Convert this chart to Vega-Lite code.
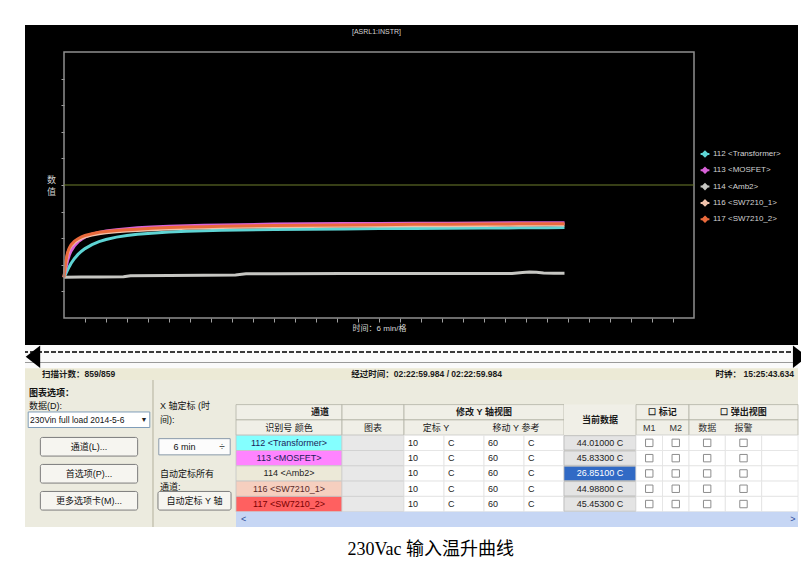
{
  "$schema": "https://vega.github.io/schema/vega-lite/v6.json",
  "background": "#ffffff",
  "padding": {"left": 24, "top": 25, "right": 4, "bottom": 10},
  "config": {
    "view": {"stroke": null},
    "font": "Liberation Sans, Noto Sans CJK SC",
    "text": {"font": "Liberation Sans, Noto Sans CJK SC", "fontSize": 9, "color": "#1a1a1a"}
  },
  "title": {
    "text": "230Vac 输入温升曲线",
    "orient": "bottom",
    "anchor": "middle",
    "offset": 13,
    "dx": 15,
    "fontSize": 18,
    "fontWeight": "normal",
    "font": "Liberation Serif, Noto Sans CJK SC",
    "color": "#000000"
  },
  "datasets": {
    "temps": [
      {"ch": "112 <Transformer>", "t": 0, "temp": 25.3},
      {"ch": "112 <Transformer>", "t": 0.5, "temp": 26.6},
      {"ch": "112 <Transformer>", "t": 1, "temp": 28.0},
      {"ch": "112 <Transformer>", "t": 1.5, "temp": 29.3},
      {"ch": "112 <Transformer>", "t": 2, "temp": 30.5},
      {"ch": "112 <Transformer>", "t": 3, "temp": 32.4},
      {"ch": "112 <Transformer>", "t": 4, "temp": 33.9},
      {"ch": "112 <Transformer>", "t": 5, "temp": 35.1},
      {"ch": "112 <Transformer>", "t": 6, "temp": 36.1},
      {"ch": "112 <Transformer>", "t": 8, "temp": 37.6},
      {"ch": "112 <Transformer>", "t": 10, "temp": 38.7},
      {"ch": "112 <Transformer>", "t": 12, "temp": 39.5},
      {"ch": "112 <Transformer>", "t": 15, "temp": 40.4},
      {"ch": "112 <Transformer>", "t": 18, "temp": 41.0},
      {"ch": "112 <Transformer>", "t": 21, "temp": 41.5},
      {"ch": "112 <Transformer>", "t": 25, "temp": 41.9},
      {"ch": "112 <Transformer>", "t": 30, "temp": 42.3},
      {"ch": "112 <Transformer>", "t": 35, "temp": 42.6},
      {"ch": "112 <Transformer>", "t": 40, "temp": 42.8},
      {"ch": "112 <Transformer>", "t": 45, "temp": 43.0},
      {"ch": "112 <Transformer>", "t": 50, "temp": 43.1},
      {"ch": "112 <Transformer>", "t": 60, "temp": 43.3},
      {"ch": "112 <Transformer>", "t": 70, "temp": 43.4},
      {"ch": "112 <Transformer>", "t": 80, "temp": 43.5},
      {"ch": "112 <Transformer>", "t": 90, "temp": 43.6},
      {"ch": "112 <Transformer>", "t": 100, "temp": 43.6},
      {"ch": "112 <Transformer>", "t": 110, "temp": 43.7},
      {"ch": "112 <Transformer>", "t": 120, "temp": 43.8},
      {"ch": "112 <Transformer>", "t": 130, "temp": 43.9},
      {"ch": "112 <Transformer>", "t": 138, "temp": 43.95},
      {"ch": "112 <Transformer>", "t": 143, "temp": 44.01},
      {"ch": "113 <MOSFET>", "t": 0, "temp": 25.3},
      {"ch": "113 <MOSFET>", "t": 0.5, "temp": 28.5},
      {"ch": "113 <MOSFET>", "t": 1, "temp": 31.5},
      {"ch": "113 <MOSFET>", "t": 1.5, "temp": 33.6},
      {"ch": "113 <MOSFET>", "t": 2, "temp": 35.1},
      {"ch": "113 <MOSFET>", "t": 3, "temp": 37.2},
      {"ch": "113 <MOSFET>", "t": 4, "temp": 38.6},
      {"ch": "113 <MOSFET>", "t": 5, "temp": 39.6},
      {"ch": "113 <MOSFET>", "t": 6, "temp": 40.4},
      {"ch": "113 <MOSFET>", "t": 8, "temp": 41.5},
      {"ch": "113 <MOSFET>", "t": 10, "temp": 42.2},
      {"ch": "113 <MOSFET>", "t": 12, "temp": 42.7},
      {"ch": "113 <MOSFET>", "t": 15, "temp": 43.2},
      {"ch": "113 <MOSFET>", "t": 18, "temp": 43.6},
      {"ch": "113 <MOSFET>", "t": 21, "temp": 43.9},
      {"ch": "113 <MOSFET>", "t": 25, "temp": 44.2},
      {"ch": "113 <MOSFET>", "t": 30, "temp": 44.5},
      {"ch": "113 <MOSFET>", "t": 35, "temp": 44.7},
      {"ch": "113 <MOSFET>", "t": 40, "temp": 44.9},
      {"ch": "113 <MOSFET>", "t": 45, "temp": 45.0},
      {"ch": "113 <MOSFET>", "t": 50, "temp": 45.1},
      {"ch": "113 <MOSFET>", "t": 60, "temp": 45.3},
      {"ch": "113 <MOSFET>", "t": 70, "temp": 45.4},
      {"ch": "113 <MOSFET>", "t": 80, "temp": 45.5},
      {"ch": "113 <MOSFET>", "t": 90, "temp": 45.5},
      {"ch": "113 <MOSFET>", "t": 100, "temp": 45.6},
      {"ch": "113 <MOSFET>", "t": 110, "temp": 45.6},
      {"ch": "113 <MOSFET>", "t": 120, "temp": 45.7},
      {"ch": "113 <MOSFET>", "t": 130, "temp": 45.8},
      {"ch": "113 <MOSFET>", "t": 138, "temp": 45.8},
      {"ch": "113 <MOSFET>", "t": 143, "temp": 45.833},
      {"ch": "114 <Amb2>", "t": 0, "temp": 25.3},
      {"ch": "114 <Amb2>", "t": 5, "temp": 25.4},
      {"ch": "114 <Amb2>", "t": 10, "temp": 25.4},
      {"ch": "114 <Amb2>", "t": 17, "temp": 25.5},
      {"ch": "114 <Amb2>", "t": 19, "temp": 25.9},
      {"ch": "114 <Amb2>", "t": 30, "temp": 26.0},
      {"ch": "114 <Amb2>", "t": 40, "temp": 26.1},
      {"ch": "114 <Amb2>", "t": 49, "temp": 26.2},
      {"ch": "114 <Amb2>", "t": 52, "temp": 26.6},
      {"ch": "114 <Amb2>", "t": 60, "temp": 26.6},
      {"ch": "114 <Amb2>", "t": 80, "temp": 26.7},
      {"ch": "114 <Amb2>", "t": 100, "temp": 26.7},
      {"ch": "114 <Amb2>", "t": 120, "temp": 26.7},
      {"ch": "114 <Amb2>", "t": 128, "temp": 26.7},
      {"ch": "114 <Amb2>", "t": 131, "temp": 27.1},
      {"ch": "114 <Amb2>", "t": 133, "temp": 27.3},
      {"ch": "114 <Amb2>", "t": 135, "temp": 27.2},
      {"ch": "114 <Amb2>", "t": 137, "temp": 26.9},
      {"ch": "114 <Amb2>", "t": 140, "temp": 26.8},
      {"ch": "114 <Amb2>", "t": 143, "temp": 26.851},
      {"ch": "116 <SW7210_1>", "t": 0, "temp": 25.3},
      {"ch": "116 <SW7210_1>", "t": 0.5, "temp": 30.5},
      {"ch": "116 <SW7210_1>", "t": 1, "temp": 34.0},
      {"ch": "116 <SW7210_1>", "t": 1.5, "temp": 35.9},
      {"ch": "116 <SW7210_1>", "t": 2, "temp": 37.0},
      {"ch": "116 <SW7210_1>", "t": 3, "temp": 38.4},
      {"ch": "116 <SW7210_1>", "t": 4, "temp": 39.3},
      {"ch": "116 <SW7210_1>", "t": 5, "temp": 40.0},
      {"ch": "116 <SW7210_1>", "t": 6, "temp": 40.5},
      {"ch": "116 <SW7210_1>", "t": 8, "temp": 41.2},
      {"ch": "116 <SW7210_1>", "t": 10, "temp": 41.7},
      {"ch": "116 <SW7210_1>", "t": 12, "temp": 42.0},
      {"ch": "116 <SW7210_1>", "t": 15, "temp": 42.4},
      {"ch": "116 <SW7210_1>", "t": 18, "temp": 42.7},
      {"ch": "116 <SW7210_1>", "t": 21, "temp": 42.9},
      {"ch": "116 <SW7210_1>", "t": 25, "temp": 43.2},
      {"ch": "116 <SW7210_1>", "t": 30, "temp": 43.5},
      {"ch": "116 <SW7210_1>", "t": 35, "temp": 43.7},
      {"ch": "116 <SW7210_1>", "t": 40, "temp": 43.8},
      {"ch": "116 <SW7210_1>", "t": 45, "temp": 44.0},
      {"ch": "116 <SW7210_1>", "t": 50, "temp": 44.1},
      {"ch": "116 <SW7210_1>", "t": 60, "temp": 44.3},
      {"ch": "116 <SW7210_1>", "t": 70, "temp": 44.4},
      {"ch": "116 <SW7210_1>", "t": 80, "temp": 44.5},
      {"ch": "116 <SW7210_1>", "t": 90, "temp": 44.6},
      {"ch": "116 <SW7210_1>", "t": 100, "temp": 44.7},
      {"ch": "116 <SW7210_1>", "t": 110, "temp": 44.7},
      {"ch": "116 <SW7210_1>", "t": 120, "temp": 44.8},
      {"ch": "116 <SW7210_1>", "t": 130, "temp": 44.9},
      {"ch": "116 <SW7210_1>", "t": 138, "temp": 44.95},
      {"ch": "116 <SW7210_1>", "t": 143, "temp": 44.988},
      {"ch": "117 <SW7210_2>", "t": 0, "temp": 25.3},
      {"ch": "117 <SW7210_2>", "t": 0.5, "temp": 31.0},
      {"ch": "117 <SW7210_2>", "t": 1, "temp": 34.5},
      {"ch": "117 <SW7210_2>", "t": 1.5, "temp": 36.3},
      {"ch": "117 <SW7210_2>", "t": 2, "temp": 37.5},
      {"ch": "117 <SW7210_2>", "t": 3, "temp": 38.9},
      {"ch": "117 <SW7210_2>", "t": 4, "temp": 39.8},
      {"ch": "117 <SW7210_2>", "t": 5, "temp": 40.5},
      {"ch": "117 <SW7210_2>", "t": 6, "temp": 41.0},
      {"ch": "117 <SW7210_2>", "t": 8, "temp": 41.7},
      {"ch": "117 <SW7210_2>", "t": 10, "temp": 42.2},
      {"ch": "117 <SW7210_2>", "t": 12, "temp": 42.5},
      {"ch": "117 <SW7210_2>", "t": 15, "temp": 42.9},
      {"ch": "117 <SW7210_2>", "t": 18, "temp": 43.2},
      {"ch": "117 <SW7210_2>", "t": 21, "temp": 43.4},
      {"ch": "117 <SW7210_2>", "t": 25, "temp": 43.7},
      {"ch": "117 <SW7210_2>", "t": 30, "temp": 44.0},
      {"ch": "117 <SW7210_2>", "t": 35, "temp": 44.2},
      {"ch": "117 <SW7210_2>", "t": 40, "temp": 44.3},
      {"ch": "117 <SW7210_2>", "t": 45, "temp": 44.5},
      {"ch": "117 <SW7210_2>", "t": 50, "temp": 44.6},
      {"ch": "117 <SW7210_2>", "t": 60, "temp": 44.8},
      {"ch": "117 <SW7210_2>", "t": 70, "temp": 44.9},
      {"ch": "117 <SW7210_2>", "t": 80, "temp": 45.0},
      {"ch": "117 <SW7210_2>", "t": 90, "temp": 45.1},
      {"ch": "117 <SW7210_2>", "t": 100, "temp": 45.2},
      {"ch": "117 <SW7210_2>", "t": 110, "temp": 45.2},
      {"ch": "117 <SW7210_2>", "t": 120, "temp": 45.3},
      {"ch": "117 <SW7210_2>", "t": 130, "temp": 45.4},
      {"ch": "117 <SW7210_2>", "t": 138, "temp": 45.4},
      {"ch": "117 <SW7210_2>", "t": 143, "temp": 45.453}
    ],
    "channels": [
      {"row": "112", "name": "112 <Transformer>", "ys": "10", "yu": "C", "rs": "60", "ru": "C", "cur": "44.01000 C", "m1": false, "m2": false, "pd": false, "pa": false},
      {"row": "113", "name": "113 <MOSFET>", "ys": "10", "yu": "C", "rs": "60", "ru": "C", "cur": "45.83300 C", "m1": false, "m2": false, "pd": false, "pa": false},
      {"row": "114", "name": "114 <Amb2>", "ys": "10", "yu": "C", "rs": "60", "ru": "C", "cur": "26.85100 C", "m1": false, "m2": false, "pd": false, "pa": false},
      {"row": "116", "name": "116 <SW7210_1>", "ys": "10", "yu": "C", "rs": "60", "ru": "C", "cur": "44.98800 C", "m1": false, "m2": false, "pd": false, "pa": false},
      {"row": "117", "name": "117 <SW7210_2>", "ys": "10", "yu": "C", "rs": "60", "ru": "C", "cur": "45.45300 C", "m1": false, "m2": false, "pd": false, "pa": false}
    ]
  },
  "bounds": "flush",
  "spacing": 0,
  "resolve": {
    "scale": {"color": "independent", "fill": "independent"},
    "legend": {"color": "independent", "fill": "independent"}
  },
  "vconcat": [
    {
      "width": 773,
      "height": 320,
      "view": {"fill": "#000000", "stroke": null},
      "title": {"text": "[ASRL1:INSTR]", "offset": -10, "dx": -35, "anchor": "middle", "frame": "group", "fontSize": 7, "fontWeight": "normal", "color": "#d6d6d6", "font": "Liberation Sans"},
      "encoding": {
        "x": {
          "field": "t", "type": "quantitative",
          "scale": {"domain": [-11.143, 209.714], "nice": false, "zero": false},
          "axis": {
            "orient": "bottom", "offset": -27, "domain": false, "grid": false, "labels": false,
            "values": [6, 12, 18, 24, 30, 36, 42, 48, 54, 60, 66, 72, 78, 84, 90, 96, 102, 108, 114, 120, 126, 132, 138, 144, 150, 156, 162, 168, 174],
            "tickSize": 4, "tickColor": "#a0a0a0", "tickWidth": 1,
            "title": "时间：6 min/格", "titleColor": "#d8d8d8", "titleFontSize": 8, "titleFontWeight": "normal",
            "titleFont": "Liberation Sans, Noto Sans CJK SC", "titlePadding": 2, "titleX": 354, "titleAlign": "center"
          }
        },
        "y": {
          "field": "temp", "type": "quantitative",
          "scale": {"domain": [-0.15, 120.15], "nice": false, "zero": false},
          "axis": {
            "orient": "left", "offset": -39, "domain": false, "grid": false, "labels": false,
            "values": [20, 30, 40, 50, 60, 70, 80, 90, 100],
            "tickSize": 3, "tickColor": "#a0a0a0", "tickWidth": 1,
            "title": ["数", "值"], "titleAngle": 0, "titleColor": "#d0d0d0", "titleFontSize": 9, "titleFontWeight": "normal",
            "titleFont": "Noto Sans CJK SC", "titleX": -13, "titleY": 154, "titleAlign": "center", "titleBaseline": "middle", "titleLineHeight": 12.5
          }
        }
      },
      "layer": [
        {
          "data": {"name": "temps"},
          "mark": {"type": "line", "strokeWidth": 3},
          "encoding": {
            "color": {
              "field": "ch", "type": "nominal",
              "scale": {
                "domain": ["112 <Transformer>", "113 <MOSFET>", "114 <Amb2>", "116 <SW7210_1>", "117 <SW7210_2>"],
                "range": ["#5ed4d4", "#d862d8", "#c6c6c2", "#f0c2ab", "#ea6a3c"]
              },
              "legend": {
                "orient": "none", "legendX": 675, "legendY": 124, "title": null,
                "labelColor": "#d2d2d2", "labelFontSize": 8, "labelFont": "Liberation Sans", "labelOffset": 3,
                "symbolType": "M-1.1,0H1.1M0,-0.6L0.6,0L0,0.6L-0.6,0Z", "symbolSize": 64, "symbolStrokeWidth": 2,
                "rowPadding": 2.3
              }
            }
          }
        },
        {
          "data": {"values": [{"t": 0, "t_end": 180, "temp": 10, "temp_hi": 110}]},
          "mark": {"type": "rect", "fill": "transparent", "stroke": "#8e8e8e", "strokeWidth": 1.5},
          "encoding": {"x2": {"field": "t_end"}, "y2": {"field": "temp_hi"}}
        },
        {
          "data": {"values": [{"t": 0, "t_end": 180, "temp": 60}]},
          "mark": {"type": "rule", "color": "#6f7e2d", "strokeWidth": 1.2},
          "encoding": {"x2": {"field": "t_end"}}
        }
      ]
    },
    {
      "width": 773,
      "height": 35,
      "view": {"fill": "#fafafa", "stroke": null},
      "layer": [
        {
          "data": {"values": [{"row": "s3"}]},
          "mark": {"type": "rect", "fill": "#ecead6"},
          "encoding": {"y": {"field": "row", "type": "nominal", "scale": {"type": "band", "domain": ["s1", "s2", "s3"], "paddingInner": 0, "paddingOuter": 0}, "axis": null}}
        },
        {
          "data": {"values": [{"row": "s1"}]},
          "mark": {"type": "rule", "color": "#3a3a3a", "strokeWidth": 2, "strokeDash": [5, 2]},
          "encoding": {"y": {"field": "row", "type": "nominal", "bandPosition": 0.6, "scale": {"type": "band", "domain": ["s1", "s2", "s3"], "paddingInner": 0, "paddingOuter": 0}, "axis": null}}
        },
        {
          "data": {"values": [{"row": "s2"}]},
          "mark": {"type": "rule", "color": "#9a9a9a", "strokeWidth": 1},
          "encoding": {"y": {"field": "row", "type": "nominal", "scale": {"type": "band", "domain": ["s1", "s2", "s3"], "paddingInner": 0, "paddingOuter": 0}, "axis": null}}
        },
        {
          "data": {"values": [{"row": "s1", "slot": "L"}]},
          "mark": {"type": "point", "shape": "M2.1,-1.55L0.1,0L2.1,1.55Z", "size": 210, "filled": true, "color": "#000000", "opacity": 1},
          "encoding": {
            "x": {"field": "slot", "type": "nominal", "bandPosition": 0, "scale": {"type": "band", "domain": ["L", "L2", "M", "M2", "R"], "paddingInner": 0, "paddingOuter": 0}, "axis": null},
            "y": {"field": "row", "type": "nominal", "bandPosition": 1, "scale": {"type": "band", "domain": ["s1", "s2", "s3"], "paddingInner": 0, "paddingOuter": 0}, "axis": null}
          }
        },
        {
          "data": {"values": [{"row": "s1", "slot": "R"}]},
          "mark": {"type": "point", "shape": "M-0.7,-1.55L1.3,0L-0.7,1.55Z", "size": 210, "filled": true, "color": "#000000", "opacity": 1},
          "encoding": {
            "x": {"field": "slot", "type": "nominal", "bandPosition": 1, "scale": {"type": "band", "domain": ["L", "L2", "M", "M2", "R"], "paddingInner": 0, "paddingOuter": 0}, "axis": null},
            "y": {"field": "row", "type": "nominal", "bandPosition": 1, "scale": {"type": "band", "domain": ["s1", "s2", "s3"], "paddingInner": 0, "paddingOuter": 0}, "axis": null}
          }
        },
        {
          "data": {"values": [
            {"row": "s3", "slot": "L", "label": "扫描计数：859/859"},
            {"row": "s3", "slot": "M", "label": "经过时间：02:22:59.984 / 02:22:59.984"}
          ]},
          "mark": {"type": "text", "align": "left", "dx": 17, "fontSize": 8.5, "fontWeight": "bold", "color": "#1a1a1a"},
          "encoding": {
            "x": {"field": "slot", "type": "nominal", "bandPosition": 0, "scale": {"type": "band", "domain": ["L", "L2", "M", "M2", "R"], "paddingInner": 0, "paddingOuter": 0}, "axis": null},
            "y": {"field": "row", "type": "nominal", "scale": {"type": "band", "domain": ["s1", "s2", "s3"], "paddingInner": 0, "paddingOuter": 0}, "axis": null},
            "text": {"field": "label"}
          }
        },
        {
          "data": {"values": [{"row": "s3", "slot": "R", "label": "时钟：  15:25:43.634"}]},
          "mark": {"type": "text", "align": "right", "dx": -4, "fontSize": 8.5, "fontWeight": "bold", "color": "#1a1a1a"},
          "encoding": {
            "x": {"field": "slot", "type": "nominal", "bandPosition": 1, "scale": {"type": "band", "domain": ["L", "L2", "M", "M2", "R"], "paddingInner": 0, "paddingOuter": 0}, "axis": null},
            "y": {"field": "row", "type": "nominal", "scale": {"type": "band", "domain": ["s1", "s2", "s3"], "paddingInner": 0, "paddingOuter": 0}, "axis": null},
            "text": {"field": "label"}
          }
        }
      ]
    },
    {
      "bounds": "flush",
      "spacing": 0,
      "resolve": {
        "scale": {"color": "independent", "fill": "independent"},
        "legend": {"color": "independent", "fill": "independent"}
      },
      "hconcat": [
        {
          "width": 128,
          "height": 147,
          "view": {"fill": "#ecebdf", "stroke": null},
          "data": {"values": [
            {"r": "r0", "label": "图表选项：", "kind": "bold"},
            {"r": "r1", "label": "数据(D):", "kind": "label"},
            {"r": "r2", "label": "230Vin full load 2014-5-6", "kind": "combo"},
            {"r": "r4", "label": "通道(L)...", "kind": "button"},
            {"r": "r6", "label": "首选项(P)...", "kind": "button"},
            {"r": "r8", "label": "更多选项卡(M)...", "kind": "button"}
          ]},
          "encoding": {
            "y": {"field": "r", "type": "nominal", "scale": {"type": "band", "domain": ["r0", "r1", "r2", "r3", "r4", "r5", "r6", "r7", "r8", "r9"], "paddingInner": 0, "paddingOuter": 0.444, "align": 0.5}, "axis": null},
            "x": {"datum": "c", "type": "nominal", "scale": {"type": "band", "domain": ["c"], "paddingInner": 0, "paddingOuter": 0}, "axis": null}
          },
          "layer": [
            {
              "transform": [{"filter": "datum.kind == 'button'"}],
              "mark": {"type": "rect", "width": {"band": 0.76}, "height": {"band": 1.38}, "fill": "#f6f5f0", "stroke": "#7c7c7c", "strokeWidth": 1, "cornerRadius": 2}
            },
            {
              "transform": [{"filter": "datum.kind == 'combo'"}],
              "mark": {"type": "rect", "width": {"band": 0.95}, "height": {"band": 1.15}, "fill": "#ffffff", "stroke": "#7f9db9", "strokeWidth": 1}
            },
            {
              "transform": [{"filter": "datum.kind == 'button'"}],
              "mark": {"type": "text", "fontSize": 9, "color": "#111111"},
              "encoding": {"text": {"field": "label"}}
            },
            {
              "transform": [{"filter": "datum.kind == 'bold'"}],
              "mark": {"type": "text", "align": "left", "dx": 4, "fontSize": 9, "fontWeight": "bold", "color": "#111111"},
              "encoding": {"x": {"datum": "c", "type": "nominal", "bandPosition": 0, "scale": {"type": "band", "domain": ["c"], "paddingInner": 0, "paddingOuter": 0}, "axis": null}, "text": {"field": "label"}}
            },
            {
              "transform": [{"filter": "datum.kind == 'label'"}],
              "mark": {"type": "text", "align": "left", "dx": 4, "fontSize": 9, "color": "#111111"},
              "encoding": {"x": {"datum": "c", "type": "nominal", "bandPosition": 0, "scale": {"type": "band", "domain": ["c"], "paddingInner": 0, "paddingOuter": 0}, "axis": null}, "text": {"field": "label"}}
            },
            {
              "transform": [{"filter": "datum.kind == 'combo'"}],
              "mark": {"type": "text", "align": "left", "dx": 5, "fontSize": 8.5, "color": "#111111"},
              "encoding": {"x": {"datum": "c", "type": "nominal", "bandPosition": 0, "scale": {"type": "band", "domain": ["c"], "paddingInner": 0, "paddingOuter": 0}, "axis": null}, "text": {"field": "label"}}
            },
            {
              "transform": [{"filter": "datum.kind == 'combo'"}],
              "mark": {"type": "text", "text": "▼", "fontSize": 7, "color": "#222222"},
              "encoding": {"x": {"datum": "c", "type": "nominal", "bandPosition": 0.93, "scale": {"type": "band", "domain": ["c"], "paddingInner": 0, "paddingOuter": 0}, "axis": null}}
            }
          ]
        },
        {
          "width": 83,
          "height": 147,
          "view": {"fill": "#ecebdf", "stroke": null},
          "data": {"values": [
            {"r": "r1", "label": "X 轴定标 (时", "kind": "label"},
            {"r": "r2", "label": "间):", "kind": "label"},
            {"r": "r4", "label": "6 min", "kind": "spin"},
            {"r": "r6", "label": "自动定标所有", "kind": "label"},
            {"r": "r7", "label": "通道:", "kind": "label"},
            {"r": "r8", "label": "自动定标 Y 轴", "kind": "button"}
          ]},
          "encoding": {
            "y": {"field": "r", "type": "nominal", "scale": {"type": "band", "domain": ["r0", "r1", "r2", "r3", "r4", "r5", "r6", "r7", "r8", "r9"], "paddingInner": 0, "paddingOuter": 0.444, "align": 0.5}, "axis": null},
            "x": {"datum": "c", "type": "nominal", "scale": {"type": "band", "domain": ["c"], "paddingInner": 0, "paddingOuter": 0}, "axis": null}
          },
          "layer": [
            {
              "mark": {"type": "rule", "color": "#cfcdbd", "strokeWidth": 1},
              "encoding": {"x": {"datum": "c", "type": "nominal", "bandPosition": 0, "scale": {"type": "band", "domain": ["c"], "paddingInner": 0, "paddingOuter": 0}, "axis": null}, "y": null}
            },
            {
              "transform": [{"filter": "datum.kind == 'button'"}],
              "mark": {"type": "rect", "width": {"band": 0.88}, "height": {"band": 1.38}, "fill": "#f6f5f0", "stroke": "#7c7c7c", "strokeWidth": 1, "cornerRadius": 2}
            },
            {
              "transform": [{"filter": "datum.kind == 'spin'"}],
              "mark": {"type": "rect", "width": {"band": 0.86}, "height": {"band": 1.2}, "fill": "#fcfcfc", "stroke": "#8a9aaa", "strokeWidth": 1}
            },
            {
              "transform": [{"filter": "datum.kind == 'button'"}],
              "mark": {"type": "text", "fontSize": 9, "color": "#111111"},
              "encoding": {"text": {"field": "label"}}
            },
            {
              "transform": [{"filter": "datum.kind == 'spin'"}],
              "mark": {"type": "text", "fontSize": 9, "dx": -10, "color": "#111111"},
              "encoding": {"text": {"field": "label"}}
            },
            {
              "transform": [{"filter": "datum.kind == 'spin'"}],
              "mark": {"type": "text", "text": "÷", "fontSize": 10, "color": "#555555"},
              "encoding": {"x": {"datum": "c", "type": "nominal", "bandPosition": 0.83, "scale": {"type": "band", "domain": ["c"], "paddingInner": 0, "paddingOuter": 0}, "axis": null}}
            },
            {
              "transform": [{"filter": "datum.kind == 'label'"}],
              "mark": {"type": "text", "align": "left", "dx": 7, "fontSize": 9, "color": "#111111"},
              "encoding": {"x": {"datum": "c", "type": "nominal", "bandPosition": 0, "scale": {"type": "band", "domain": ["c"], "paddingInner": 0, "paddingOuter": 0}, "axis": null}, "text": {"field": "label"}}
            }
          ]
        },
        {
          "width": 106,
          "height": 147,
          "view": {"fill": "#ecebdf", "stroke": null},
          "encoding": {"y": {"field": "row", "type": "nominal", "scale": {"type": "band", "domain": ["h1", "h2", "112", "113", "114", "116", "117", "sb"], "paddingInner": 0, "paddingOuter": 0.804, "align": 1}, "axis": null}},
          "resolve": {"scale": {"fill": "independent", "color": "independent"}},
          "layer": [
            {
              "data": {"values": [{"row": "h1"}, {"row": "h2"}]},
              "mark": {"type": "rect", "fill": "#f0efe7", "stroke": "#b3b2a6", "strokeWidth": 0.8}
            },
            {
              "data": {"name": "channels"},
              "mark": {"type": "rect", "stroke": "#c4c4c4", "strokeWidth": 0.8},
              "encoding": {"fill": {"field": "row", "type": "nominal", "scale": {"domain": ["112", "113", "114", "116", "117"], "range": ["#84ffff", "#ff84ff", "#ece9d8", "#f6cfbf", "#ff6060"]}, "legend": null}}
            },
            {
              "data": {"values": [{"row": "sb"}]},
              "mark": {"type": "rect", "fill": "#c6d6f4"}
            },
            {
              "data": {"values": [{"row": "h1", "label": "通道"}]},
              "mark": {"type": "text", "fontSize": 9, "fontWeight": "bold", "dx": 31},
              "encoding": {"text": {"field": "label"}}
            },
            {
              "data": {"values": [{"row": "h2", "label": "识别号 颜色"}]},
              "mark": {"type": "text", "fontSize": 9},
              "encoding": {"text": {"field": "label"}}
            },
            {
              "data": {"name": "channels"},
              "mark": {"type": "text", "fontSize": 9},
              "encoding": {
                "text": {"field": "name"},
                "color": {"field": "row", "type": "nominal", "scale": {"domain": ["112", "113", "114", "116", "117"], "range": ["#1c1c5a", "#1c1c5a", "#222222", "#5a2a2a", "#7a0000"]}, "legend": null}
              }
            },
            {
              "data": {"values": [{"row": "sb", "label": "<"}]},
              "mark": {"type": "text", "fontSize": 9, "align": "left", "dx": -48, "color": "#2a4a9a"},
              "encoding": {"text": {"field": "label"}}
            }
          ]
        },
        {
          "width": 62,
          "height": 147,
          "view": {"fill": "#ecebdf", "stroke": null},
          "encoding": {"y": {"field": "row", "type": "nominal", "scale": {"type": "band", "domain": ["h1", "h2", "112", "113", "114", "116", "117", "sb"], "paddingInner": 0, "paddingOuter": 0.804, "align": 1}, "axis": null}},
          "layer": [
            {
              "data": {"values": [{"row": "h1"}, {"row": "h2"}]},
              "mark": {"type": "rect", "fill": "#f0efe7", "stroke": "#b3b2a6", "strokeWidth": 0.8}
            },
            {
              "data": {"name": "channels"},
              "mark": {"type": "rect", "fill": "#e8e8e8", "stroke": "#cfcfcf", "strokeWidth": 0.8}
            },
            {
              "data": {"values": [{"row": "sb"}]},
              "mark": {"type": "rect", "fill": "#c6d6f4"}
            },
            {
              "data": {"values": [{"row": "h2", "label": "图表"}]},
              "mark": {"type": "text", "fontSize": 9},
              "encoding": {"text": {"field": "label"}}
            }
          ]
        },
        {
          "width": 160,
          "height": 147,
          "view": {"fill": "#ecebdf", "stroke": null},
          "encoding": {"y": {"field": "row", "type": "nominal", "scale": {"type": "band", "domain": ["h1", "h2", "112", "113", "114", "116", "117", "sb"], "paddingInner": 0, "paddingOuter": 0.804, "align": 1}, "axis": null}},
          "layer": [
            {
              "data": {"values": [{"row": "h1"}, {"row": "h2"}]},
              "mark": {"type": "rect", "fill": "#f0efe7", "stroke": "#b3b2a6", "strokeWidth": 0.8}
            },
            {
              "data": {"name": "channels"},
              "transform": [{"fold": ["ys", "yu", "rs", "ru"], "as": ["col", "val"]}],
              "mark": {"type": "rect", "fill": "#ffffff", "stroke": "#e2e2e2", "strokeWidth": 0.8},
              "encoding": {"x": {"field": "col", "type": "nominal", "scale": {"type": "band", "domain": ["ys", "yu", "rs", "ru"], "paddingInner": 0, "paddingOuter": 0}, "axis": null}}
            },
            {
              "data": {"values": [{"row": "sb"}]},
              "mark": {"type": "rect", "fill": "#c6d6f4"}
            },
            {
              "data": {"values": [{"row": "h1", "label": "修改 Y 轴视图"}]},
              "mark": {"type": "text", "fontSize": 9, "fontWeight": "bold"},
              "encoding": {"text": {"field": "label"}}
            },
            {
              "data": {"values": [{"row": "h2", "col": "ys", "label": "定标 Y"}, {"row": "h2", "col": "rs", "label": "移动 Y 参考"}]},
              "mark": {"type": "text", "fontSize": 9, "dx": -8},
              "encoding": {
                "x": {"field": "col", "type": "nominal", "bandPosition": 1, "scale": {"type": "band", "domain": ["ys", "yu", "rs", "ru"], "paddingInner": 0, "paddingOuter": 0}, "axis": null},
                "text": {"field": "label"}
              }
            },
            {
              "data": {"name": "channels"},
              "transform": [{"fold": ["ys", "yu", "rs", "ru"], "as": ["col", "val"]}],
              "mark": {"type": "text", "fontSize": 9, "align": "left", "dx": 4, "color": "#222222"},
              "encoding": {
                "x": {"field": "col", "type": "nominal", "bandPosition": 0, "scale": {"type": "band", "domain": ["ys", "yu", "rs", "ru"], "paddingInner": 0, "paddingOuter": 0}, "axis": null},
                "text": {"field": "val"}
              }
            }
          ]
        },
        {
          "width": 72,
          "height": 147,
          "view": {"fill": "#ecebdf", "stroke": null},
          "encoding": {"y": {"field": "row", "type": "nominal", "scale": {"type": "band", "domain": ["h1", "h2", "112", "113", "114", "116", "117", "sb"], "paddingInner": 0, "paddingOuter": 0.804, "align": 1}, "axis": null}},
          "resolve": {"scale": {"fill": "independent", "color": "independent"}},
          "layer": [
            {
              "data": {"values": [{"row": "h1"}, {"row": "h2"}]},
              "mark": {"type": "rect", "fill": "#f0efe7"}
            },
            {
              "data": {"name": "channels"},
              "mark": {"type": "rect", "stroke": "#b8b8b8", "strokeWidth": 0.8, "height": {"band": 0.94}},
              "encoding": {"fill": {"field": "row", "type": "nominal", "scale": {"domain": ["112", "113", "114", "116", "117"], "range": ["#e4e4e4", "#e4e4e4", "#316ac5", "#e4e4e4", "#e4e4e4"]}, "legend": null}}
            },
            {
              "data": {"values": [{"row": "sb"}]},
              "mark": {"type": "rect", "fill": "#c6d6f4"}
            },
            {
              "data": {"values": [{"row": "h1", "label": "当前数据"}]},
              "mark": {"type": "text", "fontSize": 9, "fontWeight": "bold"},
              "encoding": {
                "y": {"field": "row", "type": "nominal", "bandPosition": 1, "scale": {"type": "band", "domain": ["h1", "h2", "112", "113", "114", "116", "117", "sb"], "paddingInner": 0, "paddingOuter": 0.804, "align": 1}, "axis": null},
                "text": {"field": "label"}
              }
            },
            {
              "data": {"name": "channels"},
              "mark": {"type": "text", "fontSize": 9},
              "encoding": {
                "text": {"field": "cur"},
                "color": {"field": "row", "type": "nominal", "scale": {"domain": ["112", "113", "114", "116", "117"], "range": ["#222222", "#222222", "#ffffff", "#222222", "#222222"]}, "legend": null}
              }
            }
          ]
        },
        {
          "width": 53,
          "height": 147,
          "view": {"fill": "#ecebdf", "stroke": null},
          "encoding": {"y": {"field": "row", "type": "nominal", "scale": {"type": "band", "domain": ["h1", "h2", "112", "113", "114", "116", "117", "sb"], "paddingInner": 0, "paddingOuter": 0.804, "align": 1}, "axis": null}},
          "layer": [
            {
              "data": {"values": [{"row": "h1"}, {"row": "h2"}]},
              "mark": {"type": "rect", "fill": "#f0efe7", "stroke": "#b3b2a6", "strokeWidth": 0.8}
            },
            {
              "data": {"name": "channels"},
              "transform": [{"fold": ["m1", "m2"], "as": ["col", "on"]}],
              "mark": {"type": "rect", "fill": "#ffffff", "stroke": "#e2e2e2", "strokeWidth": 0.8},
              "encoding": {"x": {"field": "col", "type": "nominal", "scale": {"type": "band", "domain": ["m1", "m2"], "paddingInner": 0, "paddingOuter": 0}, "axis": null}}
            },
            {
              "data": {"name": "channels"},
              "transform": [{"fold": ["m1", "m2"], "as": ["col", "on"]}],
              "mark": {"type": "point", "shape": "square", "size": 55, "filled": false, "fill": "#ffffff", "stroke": "#8d8d8d", "strokeWidth": 1, "opacity": 1},
              "encoding": {"x": {"field": "col", "type": "nominal", "scale": {"type": "band", "domain": ["m1", "m2"], "paddingInner": 0, "paddingOuter": 0}, "axis": null}}
            },
            {
              "data": {"values": [{"row": "sb"}]},
              "mark": {"type": "rect", "fill": "#c6d6f4"}
            },
            {
              "data": {"values": [{"row": "h1", "label": "☐    标记"}]},
              "mark": {"type": "text", "fontSize": 9, "fontWeight": "bold"},
              "encoding": {"text": {"field": "label"}}
            },
            {
              "data": {"values": [{"row": "h2", "col": "m1", "label": "M1"}, {"row": "h2", "col": "m2", "label": "M2"}]},
              "mark": {"type": "text", "fontSize": 9, "color": "#333333"},
              "encoding": {
                "x": {"field": "col", "type": "nominal", "scale": {"type": "band", "domain": ["m1", "m2"], "paddingInner": 0, "paddingOuter": 0}, "axis": null},
                "text": {"field": "label"}
              }
            }
          ]
        },
        {
          "width": 109,
          "height": 147,
          "view": {"fill": "#ecebdf", "stroke": null},
          "encoding": {"y": {"field": "row", "type": "nominal", "scale": {"type": "band", "domain": ["h1", "h2", "112", "113", "114", "116", "117", "sb"], "paddingInner": 0, "paddingOuter": 0.804, "align": 1}, "axis": null}},
          "layer": [
            {
              "data": {"values": [{"row": "h1"}, {"row": "h2"}]},
              "mark": {"type": "rect", "fill": "#f0efe7", "stroke": "#b3b2a6", "strokeWidth": 0.8}
            },
            {
              "data": {"name": "channels"},
              "transform": [{"fold": ["pd", "pa", "px"], "as": ["col", "on"]}],
              "mark": {"type": "rect", "fill": "#ffffff", "stroke": "#e2e2e2", "strokeWidth": 0.8},
              "encoding": {"x": {"field": "col", "type": "nominal", "scale": {"type": "band", "domain": ["pd", "pa", "px"], "paddingInner": 0, "paddingOuter": 0}, "axis": null}}
            },
            {
              "data": {"name": "channels"},
              "transform": [{"fold": ["pd", "pa"], "as": ["col", "on"]}],
              "mark": {"type": "point", "shape": "square", "size": 55, "filled": false, "fill": "#ffffff", "stroke": "#8d8d8d", "strokeWidth": 1, "opacity": 1},
              "encoding": {"x": {"field": "col", "type": "nominal", "scale": {"type": "band", "domain": ["pd", "pa", "px"], "paddingInner": 0, "paddingOuter": 0}, "axis": null}}
            },
            {
              "data": {"values": [{"row": "sb"}]},
              "mark": {"type": "rect", "fill": "#c6d6f4"}
            },
            {
              "data": {"values": [{"row": "h1", "label": "☐      弹出视图"}]},
              "mark": {"type": "text", "fontSize": 9, "fontWeight": "bold"},
              "encoding": {"text": {"field": "label"}}
            },
            {
              "data": {"values": [{"row": "h2", "col": "pd", "label": "数据"}, {"row": "h2", "col": "pa", "label": "报警"}]},
              "mark": {"type": "text", "fontSize": 9, "color": "#333333"},
              "encoding": {
                "x": {"field": "col", "type": "nominal", "scale": {"type": "band", "domain": ["pd", "pa", "px"], "paddingInner": 0, "paddingOuter": 0}, "axis": null},
                "text": {"field": "label"}
              }
            },
            {
              "data": {"values": [{"row": "sb", "label": ">"}]},
              "mark": {"type": "text", "fontSize": 9, "align": "right", "dx": 52, "color": "#2a4a9a"},
              "encoding": {"text": {"field": "label"}}
            }
          ]
        }
      ]
    }
  ]
}
